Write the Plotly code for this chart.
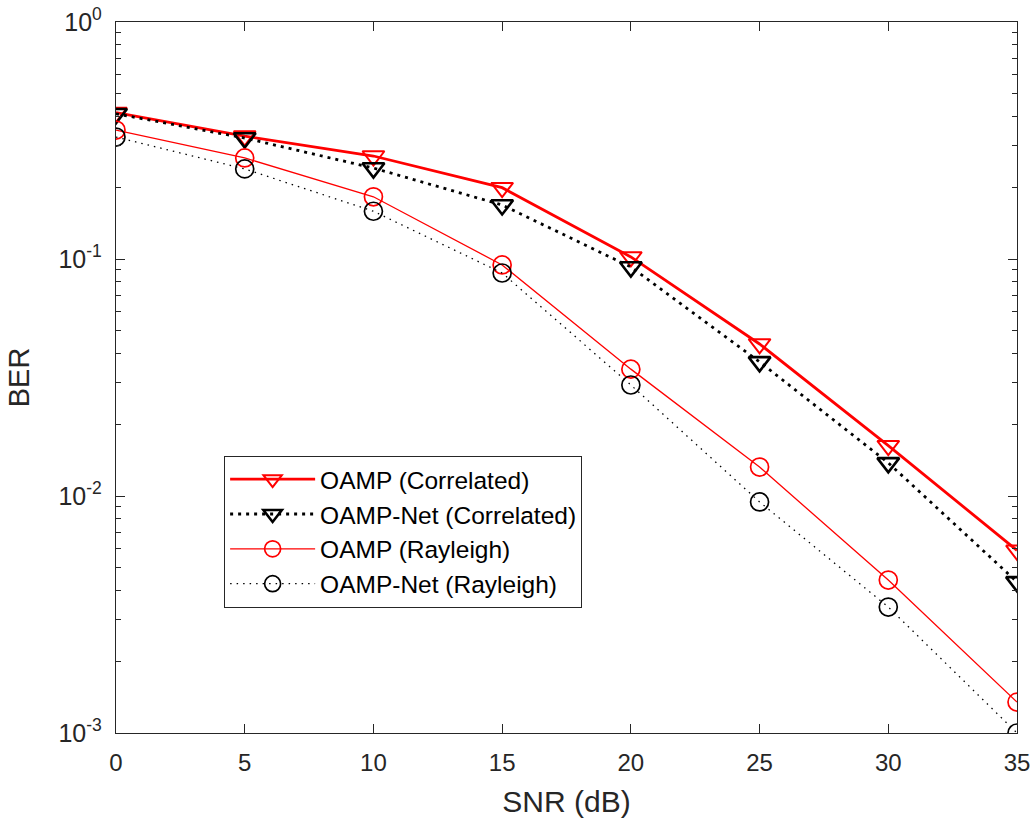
import plotly.graph_objects as go

snr = [0, 5, 10, 15, 20, 25, 30, 35]
oamp_corr = [0.415, 0.33, 0.272, 0.20, 0.102, 0.0438, 0.0163, 0.0059]
oampnet_corr = [0.41, 0.324, 0.242, 0.169, 0.0925, 0.0368, 0.0138, 0.00434]
oamp_ray = [0.35, 0.267, 0.183, 0.0944, 0.0343, 0.01325, 0.00442, 0.00135]
oampnet_ray = [0.327, 0.24, 0.159, 0.0873, 0.0294, 0.00944, 0.0034, 0.001]

y_tickvals = [1e-3, 1e-2, 1e-1, 1]
y_ticktext = ["10<sup>-3</sup>", "10<sup>-2</sup>", "10<sup>-1</sup>", "10<sup>0</sup>"]
x_tickvals = [0, 5, 10, 15, 20, 25, 30, 35]

minor_vals = [m * 10.0 ** e for e in range(-3, 0) for m in range(2, 10)]

fig = go.Figure()
fig.add_trace(go.Scatter(x=snr, y=oamp_corr, name="OAMP (Correlated)", mode="lines+markers",
                         line=dict(color="red", width=2.8),
                         marker=dict(symbol="triangle-down-open", size=19, color="red", line=dict(width=2))))
fig.add_trace(go.Scatter(x=snr, y=oampnet_corr, name="OAMP-Net (Correlated)", mode="lines+markers",
                         line=dict(color="black", width=2.8, dash="3px,5px"),
                         marker=dict(symbol="triangle-down-open", size=19, color="black", line=dict(width=2.6))))
fig.add_trace(go.Scatter(x=snr, y=oamp_ray, name="OAMP (Rayleigh)", mode="lines+markers",
                         line=dict(color="red", width=1.3),
                         marker=dict(symbol="circle-open", size=18, color="red", line=dict(width=1.7))))
fig.add_trace(go.Scatter(x=snr, y=oampnet_ray, name="OAMP-Net (Rayleigh)", mode="lines+markers",
                         line=dict(color="black", width=1.3, dash="1.5px,5px"),
                         marker=dict(symbol="circle-open", size=18, color="black", line=dict(width=1.7))))

font_family = "Liberation Sans, Arial, sans-serif"
fig.update_layout(
    width=1035, height=819,
    margin=dict(l=116, r=18, t=22, b=86, autoexpand=False),
    plot_bgcolor="white", paper_bgcolor="white",
    font=dict(family=font_family, size=24, color="#262626"),
    showlegend=True,
    legend=dict(x=0.12, y=0.39, xanchor="left", yanchor="top",
                bgcolor="white", bordercolor="#262626", borderwidth=1,
                font=dict(family=font_family, size=24.5, color="black"), tracegroupgap=0, itemwidth=85),
)
fig.update_xaxes(range=[0, 35], tickmode="array", tickvals=x_tickvals, automargin=False,
                 tickfont=dict(family=font_family, size=24, color="#262626"),
                 ticklabeloverflow="allow",
                 ticks="inside", ticklen=9, tickwidth=1.4, tickcolor="#262626", ticklabelstandoff=8,
                 showline=True, linecolor="#262626", linewidth=1.4, mirror="allticks",
                 showgrid=False, zeroline=False,
                 title=dict(text="SNR (dB)", font=dict(family=font_family, size=30, color="#262626"), standoff=15))
fig.update_yaxes(type="log", range=[-3, 0], tickmode="array", tickvals=y_tickvals, ticktext=y_ticktext,
                 automargin=False, ticklabeloverflow="allow",
                 tickfont=dict(family=font_family, size=25, color="#262626"),
                 ticks="inside", ticklen=9, tickwidth=1.4, tickcolor="#262626", ticklabelstandoff=8,
                 showline=True, linecolor="#262626", linewidth=1.4, mirror="allticks",
                 showgrid=False, zeroline=False,
                 minor=dict(tickmode="array", tickvals=minor_vals, ticks="inside", ticklen=5,
                            tickwidth=1.4, tickcolor="#262626", showgrid=False),
                 title=dict(text="BER", font=dict(family=font_family, size=29, color="#262626"), standoff=20))

fig.write_html("out.html", config={"displayModeBar": False},
               post_script="document.body.style.margin='0';document.body.style.overflow='hidden';")
